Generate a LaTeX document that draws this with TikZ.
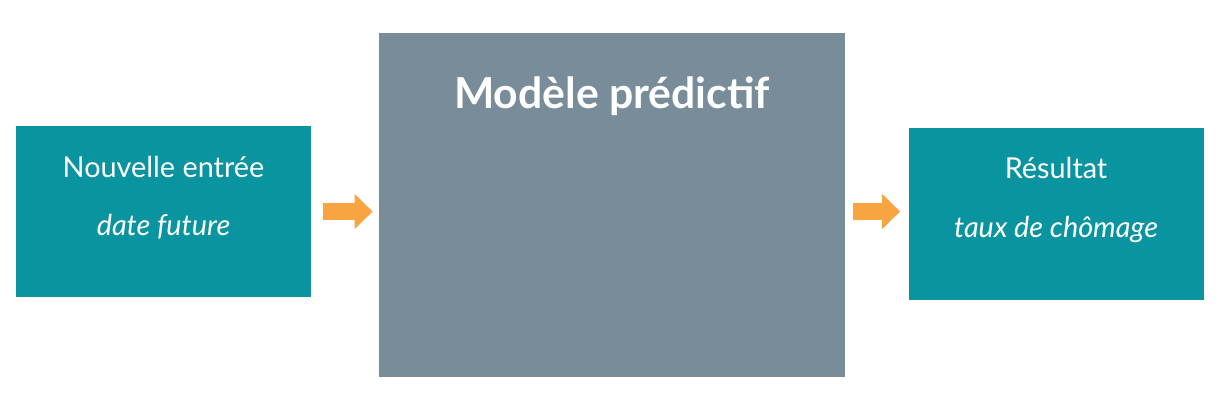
\documentclass[tikz,border=0pt]{standalone}
\usepackage{fontspec}
\setmainfont{Lato}
\usepackage{xcolor}
\usepackage{tikz}
\definecolor{boxteal}{RGB}{10, 148, 160}
\definecolor{modelgray}{RGB}{121, 140, 153}
\definecolor{arroworange}{RGB}{247, 164, 65}
\usetikzlibrary{arrows.meta, positioning, calc}

\begin{document}
\begin{tikzpicture}[
    iobox/.style={fill=boxteal, minimum width=5.9cm, minimum height=3.42cm, inner sep=0pt},
    boxtext/.style={text=white, anchor=base, font=\fontsize{16.4pt}{19pt}\selectfont},
    flow/.style={draw=arroworange, line width=0.35cm, -{Triangle[length=0.36cm, width=0.68cm]}}
  ]
    \useasboundingbox (0,0) rectangle (24.4,-8.22);

    % boxes
    \node[iobox] (input) at (3.27,-4.23) {};
    \node[fill=modelgray, minimum width=9.32cm, minimum height=6.88cm, inner sep=0pt] (model) at (12.24,-4.10) {};
    \node[iobox, minimum height=3.44cm] (output) at (21.12,-4.28) {};

    % texts
    \node[boxtext] (inputtitle) at ([yshift=-1.04cm]input.north) {Nouvelle entrée};
    \node[boxtext] (inputvalue) at ([yshift=-2.2cm]input.north) {\itshape date future};
    \node[text=white, anchor=base, font=\bfseries\fontsize{24.3pt}{29pt}\selectfont] (modeltitle)
        at ([yshift=-1.52cm]model.north) {Modèle prédictif};
    \node[boxtext] (outputtitle) at ([yshift=-1.02cm]output.north) {Résultat};
    \node[boxtext] (outputvalue) at ([yshift=-2.2cm]output.north) {\itshape taux de chômage};

    % arrows
    \draw[flow, shorten <=0.24cm, shorten >=0.12cm] (input.east) -- (input.east -| model.west);
    \draw[flow, shorten <=0.16cm, shorten >=0.16cm] (input.east -| model.east) -- (input.east -| output.west);
\end{tikzpicture}
\end{document}
